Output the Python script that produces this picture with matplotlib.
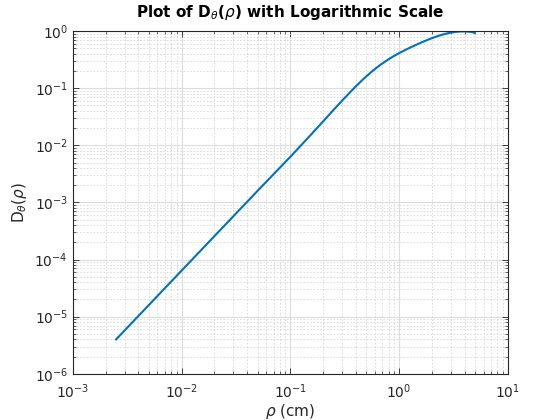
import matplotlib
matplotlib.use("Agg")
import matplotlib.pyplot as plt
from matplotlib.ticker import LogLocator, NullFormatter

# Values
rho = [0.0025, 0.005, 0.01, 0.02, 0.05, 0.1, 0.15, 0.2, 0.25, 0.3,
       0.35, 0.4, 0.45, 0.5, 0.57, 0.65, 0.7, 0.8, 0.9, 1.0,
       1.15, 1.3, 1.6, 1.8, 2.0, 2.25, 2.5, 2.75, 3.0, 3.25,
       3.5, 3.75, 4.0, 4.25, 4.5, 4.7, 4.9]
D_theta = [4.0e-6, 1.6e-5, 6.4e-5, 2.56e-4, 1.6e-3, 6.3e-3, 0.01441, 0.0262, 0.0419, 0.0610,
           0.0830, 0.1077, 0.1341, 0.1616, 0.2006, 0.2443, 0.2710, 0.3215, 0.3682, 0.4113,
           0.4717, 0.528, 0.631, 0.694, 0.751, 0.814, 0.867, 0.909, 0.941, 0.964,
           0.978, 0.985, 0.986, 0.981, 0.970, 0.955, 0.935]

plt.rcParams['font.family'] = ['DejaVu Sans']
plt.rcParams['axes.unicode_minus'] = False

fig = plt.figure(figsize=(5.6, 4.2), dpi=100)
ax = fig.add_axes([0.13, 0.11, 0.777, 0.816])

ax.plot(rho, D_theta, color='#0072BD', linewidth=1.5)

ax.set_xscale('log')
ax.set_yscale('log')
ax.set_xlim(1e-3, 1e1)
ax.set_ylim(1e-6, 1e0)

# MATLAB-like grid and ticks
ax.xaxis.set_major_locator(LogLocator(base=10, numticks=10))
ax.yaxis.set_major_locator(LogLocator(base=10, numticks=10))
ax.xaxis.set_minor_locator(LogLocator(base=10, subs=range(2, 10), numticks=20))
ax.yaxis.set_minor_locator(LogLocator(base=10, subs=range(2, 10), numticks=20))
ax.xaxis.set_minor_formatter(NullFormatter())
ax.yaxis.set_minor_formatter(NullFormatter())

ax.grid(True, which='major', color='#dcdcdc', linewidth=0.8, linestyle='-')
ax.grid(True, which='minor', color='#d8d8d8', linewidth=0.6, linestyle=(0, (2, 2)))
ax.set_axisbelow(True)

ax.tick_params(which='both', direction='in', top=True, right=True,
               colors='#262626', labelsize=10)
ax.tick_params(which='major', length=4.5, width=0.6)
ax.tick_params(which='minor', length=2.5, width=0.5)
ax.tick_params(axis='x', which='major', pad=6)
for sp in ax.spines.values():
    sp.set_color('#262626')
    sp.set_linewidth(0.8)

ax.set_xlabel(r'$\rho$ (cm)', fontsize=11, color='#262626', labelpad=1)
ax.set_ylabel(r'D$_\theta$($\rho$)', fontsize=11, color='#262626')
ax.set_title(r'Plot of D$_\theta$($\rho$) with Logarithmic Scale',
             fontsize=11, fontweight='bold', pad=10)

fig.savefig('out.png', dpi=100)
